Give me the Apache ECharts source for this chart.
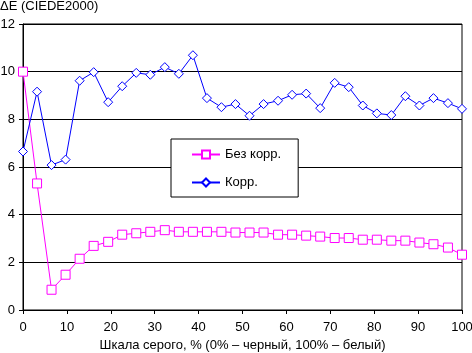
<!DOCTYPE html>
<html>
<head>
<meta charset="utf-8">
<script src="https://cdn.jsdelivr.net/npm/echarts@6/dist/echarts.min.js"></script>
<style>
  html, body { margin: 0; padding: 0; background: #fff; }
  #chart { width: 472px; height: 353px; }
</style>
</head>
<body>
<div id="chart"></div>
<script>
// ΔE по шкале серого: без коррекции (пурпурные квадраты) и с коррекцией (синие ромбы)
const grayLevels = [0, 3.2, 6.5, 9.7, 12.9, 16.1, 19.4, 22.6, 25.8, 29.0, 32.3, 35.5, 38.7, 41.9, 45.2, 48.4,
  51.6, 54.8, 58.1, 61.3, 64.5, 67.7, 71.0, 74.2, 77.4, 80.6, 83.9, 87.1, 90.3, 93.5, 96.8, 100];
const deltaNoCorr = [10.0, 5.31, 0.85, 1.48, 2.15, 2.69, 2.86, 3.16, 3.22, 3.28, 3.35, 3.28, 3.28, 3.28, 3.28, 3.25,
  3.25, 3.25, 3.16, 3.16, 3.12, 3.08, 3.02, 3.02, 2.95, 2.95, 2.91, 2.91, 2.83, 2.76, 2.62, 2.32];
const deltaCorr = [6.65, 9.16, 6.08, 6.31, 9.62, 9.98, 8.72, 9.39, 9.95, 9.87, 10.19, 9.91, 10.69, 8.89, 8.51, 8.64,
  8.15, 8.64, 8.78, 9.03, 9.08, 8.47, 9.53, 9.35, 8.58, 8.25, 8.18, 8.97, 8.58, 8.89, 8.68, 8.44];
const seriesNames = ['Без корр.', 'Корр.'];

const FONT = '"Liberation Sans", Arial, sans-serif';
const pairs = (ys) => grayLevels.map((x, i) => [x, ys[i]]);

const chart = echarts.init(document.getElementById('chart'), null, { renderer: 'canvas' });
chart.setOption({
  animation: false,
  backgroundColor: '#fff',
  textStyle: { fontFamily: FONT },
  title: {
    text: 'ΔE (CIEDE2000)',
    left: 0, top: 0, padding: 0,
    textStyle: { fontFamily: FONT, fontSize: 13, fontWeight: 'normal', color: '#000' },
  },
  grid: {
    left: 23, right: 10, top: 24, bottom: 43,
    outerBoundsMode: 'none', containLabel: false,
    show: true, borderColor: '#000', borderWidth: 1,
  },
  legend: {
    orient: 'vertical',
    left: 171, top: 139,
    padding: [9, 17, 8, 20],
    itemWidth: 28, itemHeight: 10, itemGap: 15,
    backgroundColor: '#fff',
    borderColor: '#000', borderWidth: 1,
    textStyle: { fontFamily: FONT, fontSize: 13, color: '#000' },
    data: seriesNames,
  },
  xAxis: {
    type: 'value',
    min: 0, max: 100, interval: 10,
    name: 'Шкала серого, % (0% – черный, 100% – белый)',
    nameLocation: 'middle', nameGap: 29,
    nameTextStyle: { fontFamily: FONT, fontSize: 13, color: '#000' },
    axisLine: { lineStyle: { color: '#000', width: 1 } },
    axisTick: { show: true, length: 4, lineStyle: { color: '#000' } },
    axisLabel: { color: '#000', fontSize: 13, margin: 11 },
    splitLine: { show: false },
  },
  yAxis: {
    type: 'value',
    min: 0, max: 12, interval: 2,
    axisLine: { show: true, lineStyle: { color: '#000', width: 1 } },
    axisTick: { show: true, length: 4, lineStyle: { color: '#000' } },
    axisLabel: { color: '#000', fontSize: 13, margin: 8 },
    splitLine: { lineStyle: { color: '#000', width: 1 } },
  },
  series: [
    {
      name: seriesNames[0],
      type: 'line',
      data: pairs(deltaNoCorr),
      symbol: 'rect', symbolSize: 9,
      lineStyle: { color: '#FF00FF', width: 1 },
      itemStyle: { color: '#fff', borderColor: '#FF00FF', borderWidth: 1 },
    },
    {
      name: seriesNames[1],
      type: 'line',
      data: pairs(deltaCorr),
      symbol: 'diamond', symbolSize: 9,
      lineStyle: { color: '#0000FF', width: 1 },
      itemStyle: { color: '#fff', borderColor: '#0000FF', borderWidth: 1 },
    },
  ],
});
</script>
</body>
</html>
